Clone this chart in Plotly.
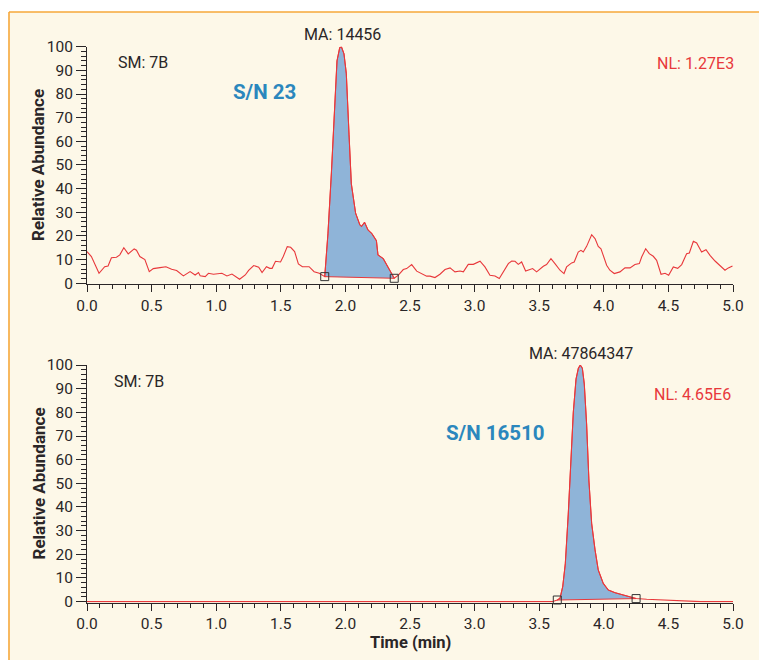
import numpy as np
import plotly.graph_objects as go

# ---------------- data ----------------
top_time = [0.000, 0.034, 0.093, 0.137, 0.163, 0.189, 0.228, 0.254, 0.285, 0.319, 0.365, 0.383,
            0.409, 0.448, 0.482, 0.513, 0.565, 0.611, 0.655, 0.694, 0.746, 0.798, 0.837, 0.863,
            0.876, 0.915, 0.940, 0.979, 1.044, 1.083, 1.122, 1.181, 1.225, 1.251, 1.290, 1.329,
            1.355, 1.389, 1.415, 1.433, 1.459, 1.498, 1.519, 1.550, 1.576, 1.607, 1.636, 1.667,
            1.693, 1.719, 1.758, 1.798, 1.840, 1.865, 1.892, 1.917, 1.935, 1.956, 1.969, 1.989,
            2.007, 2.028, 2.046, 2.079, 2.112, 2.125, 2.148, 2.175, 2.205, 2.240, 2.252, 2.293,
            2.332, 2.371, 2.378, 2.410, 2.448, 2.474, 2.513, 2.552, 2.591, 2.629, 2.655, 2.693,
            2.732, 2.771, 2.810, 2.848, 2.887, 2.913, 2.951, 2.990, 3.042, 3.080, 3.119, 3.158,
            3.191, 3.222, 3.261, 3.287, 3.313, 3.338, 3.364, 3.395, 3.429, 3.449, 3.480, 3.532,
            3.557, 3.591, 3.622, 3.661, 3.692, 3.712, 3.751, 3.771, 3.802, 3.823, 3.841, 3.867,
            3.906, 3.932, 3.957, 3.978, 4.022, 4.047, 4.081, 4.125, 4.164, 4.203, 4.241, 4.275,
            4.293, 4.324, 4.352, 4.383, 4.409, 4.443, 4.474, 4.502, 4.538, 4.572, 4.603, 4.641,
            4.662, 4.693, 4.719, 4.757, 4.791, 4.822, 4.861, 4.899, 4.938, 4.964, 4.996]
top_abund = [13.4, 11.3, 4.2, 7.0, 7.3, 10.8, 11.0, 12.0, 15.0, 12.4, 14.5, 14.0,
             11.3, 10.0, 4.9, 6.2, 6.6, 7.0, 5.9, 5.4, 3.1, 4.9, 3.5, 4.5,
             3.2, 2.8, 4.2, 3.8, 4.2, 3.1, 3.9, 1.7, 3.5, 5.4, 7.5, 6.8,
             4.5, 7.0, 6.3, 6.3, 9.3, 9.0, 11.3, 15.5, 15.2, 13.4, 8.2, 7.0,
             7.0, 7.0, 4.9, 4.2, 2.8, 21.0, 47.0, 77.0, 94.0, 99.6, 100.0, 97.0,
             88.7, 63.0, 42.0, 29.6, 24.7, 24.0, 25.8, 22.5, 21.0, 18.0, 12.0, 10.4,
             6.6, 2.7, 2.1, 3.4, 5.8, 6.2, 7.9, 5.1, 4.1, 3.0, 3.0, 2.4,
             3.8, 5.8, 6.5, 4.8, 5.2, 4.8, 8.0, 8.0, 9.3, 6.9, 3.4, 3.1,
             2.0, 4.8, 8.3, 9.4, 9.3, 8.0, 9.0, 5.2, 5.8, 6.2, 4.8, 7.2,
             7.9, 10.4, 8.3, 5.5, 4.1, 6.9, 8.6, 9.0, 13.2, 13.9, 13.2, 15.6,
             20.5, 18.9, 15.6, 14.6, 7.6, 5.5, 4.1, 4.8, 6.5, 6.5, 7.9, 8.3,
             11.1, 14.6, 12.5, 11.4, 9.7, 3.8, 4.2, 3.4, 6.9, 6.3, 7.9, 12.5,
             12.8, 17.7, 17.0, 13.2, 14.2, 11.8, 9.4, 7.6, 5.5, 6.5, 7.3]
top_peak_times = [1.840, 2.378]
top_peak_base = [2.8, 2.1]

bot_time = [0.000, 1.000, 2.000, 3.000, 3.600, 3.640, 3.661, 3.682, 3.702, 3.725, 3.744, 3.764,
            3.785, 3.803, 3.818, 3.834, 3.849, 3.867, 3.885, 3.906, 3.932, 3.957, 3.996, 4.035,
            4.087, 4.151, 4.216, 4.250, 4.332, 4.461, 4.590, 4.693, 4.750, 5.000]
bot_abund = [0.0, 0.0, 0.0, 0.0, 0.0, 0.7, 1.4, 6.3, 16.0, 37.0, 58.0, 80.0,
             94.0, 98.6, 100.0, 98.6, 92.0, 75.0, 51.0, 33.0, 22.0, 13.4, 7.7, 4.9,
             3.8, 2.8, 2.1, 1.3, 1.0, 0.7, 0.4, 0.3, 0.0, 0.0]
bot_peak_times = [3.640, 4.250]
bot_peak_base = [0.7, 1.3]

x_ticks = [0.0, 0.5, 1.0, 1.5, 2.0, 2.5, 3.0, 3.5, 4.0, 4.5, 5.0]
y_ticks = [0, 10, 20, 30, 40, 50, 60, 70, 80, 90, 100]

# ---------------- styling ----------------
FONT = "Roboto, Liberation Sans, sans-serif"
INK = "#2a2627"
RED = "#e8383b"
FILL = "#8fb4d8"
BLUE = "#2b87bd"
CREAM = "#fdf8e8"
ORANGE = "#f6a83a"
W, H = 759, 660


def px(xp):
    return xp / W


def py(yp):
    return 1 - yp / H


def peak_polygon(t, a, times, base):
    t = np.asarray(t)
    a = np.asarray(a)
    m = (t >= times[0]) & (t <= times[1])
    xs = list(t[m]) + [times[1], times[0]]
    ys = list(a[m]) + [base[1], base[0]]
    return xs, ys


fig = go.Figure()

panels = [
    ("x", "y", top_time, top_abund, top_peak_times, top_peak_base),
    ("x2", "y2", bot_time, bot_abund, bot_peak_times, bot_peak_base),
]
for xa, ya, t, a, pt, pb in panels:
    xs, ys = peak_polygon(t, a, pt, pb)
    fig.add_trace(go.Scatter(x=xs, y=ys, xaxis=xa, yaxis=ya, mode="lines",
                             fill="toself", fillcolor=FILL,
                             line=dict(color=RED, width=1), hoverinfo="skip",
                             showlegend=False))
    fig.add_trace(go.Scatter(x=t, y=a, xaxis=xa, yaxis=ya, mode="lines",
                             line=dict(color=RED, width=1.1), showlegend=False))
    fig.add_trace(go.Scatter(x=pt, y=pb, xaxis=xa, yaxis=ya, mode="markers",
                             marker=dict(symbol="square-open", size=8, color="#333333",
                                         line=dict(width=1)),
                             cliponaxis=False, showlegend=False))

xdom = [px(87), px(733)]
top_dom = [py(284.2), py(46.7)]
bot_dom = [py(602.6), py(365.0)]

tickfont = dict(family=FONT, size=15.5, color=INK)


def xaxis(anchor):
    return dict(domain=xdom, range=[0, 5], anchor=anchor, showline=True, linecolor=INK,
                linewidth=1, ticks="outside", ticklen=7, tickwidth=1, tickcolor=INK,
                tickmode="array", tickvals=x_ticks, ticktext=[f"{v:.1f}" for v in x_ticks],
                minor=dict(dtick=0.1, tick0=0, ticks="outside", ticklen=4, tickcolor=INK,
                           tickwidth=1, showgrid=False),
                showgrid=False, zeroline=False, tickfont=tickfont, layer="below traces",
                automargin=False, fixedrange=True)


def yaxis(anchor, dom):
    return dict(domain=dom, range=[-0.4, 100], anchor=anchor, showline=True, linecolor=INK,
                linewidth=1, ticks="outside", ticklen=10, tickwidth=1, tickcolor=INK,
                tickmode="array", tickvals=y_ticks, ticktext=[str(v) for v in y_ticks],
                minor=dict(dtick=2, tick0=0, ticks="outside", ticklen=5, tickcolor=INK,
                           tickwidth=1, showgrid=False),
                showgrid=False, zeroline=False, tickfont=tickfont, layer="below traces",
                automargin=False, fixedrange=True)


def note(xp, yp, text, xanchor="left", size=16, color=INK, angle=0):
    return dict(x=px(xp), y=py(yp), xref="paper", yref="paper", text=text, showarrow=False,
                xanchor=xanchor, yanchor="middle", textangle=angle,
                font=dict(family=FONT, size=size, color=color))


annotations = [
    note(342, 34, "MA: 14456", "center"),
    note(116, 62.5, "SM: 7B"),
    note(231, 91.7, "<b>S/N 23</b>", size=20.5, color=BLUE),
    note(736, 63, "NL: 1.27E3", "right", color=RED),
    note(581, 353.7, "MA: 47864347", "center"),
    note(112, 381, "SM: 7B"),
    note(444, 432.5, "<b>S/N 16510</b>", size=20.5, color=BLUE),
    note(733, 394, "NL: 4.65E6", "right", color=RED),
    note(38, 165, "<b>Relative Abundance</b>", "center", size=17, angle=-90),
    note(38, 483.5, "<b>Relative Abundance</b>", "center", size=17, angle=-90),
    note(410, 642, "<b>Time (min)</b>", "center", size=16.5),
]

shapes = [
    dict(type="rect", xref="paper", yref="paper", x0=px(9), x1=1, y0=0, y1=py(12),
         fillcolor=CREAM, line=dict(width=0), layer="below"),
    dict(type="line", xref="paper", yref="paper", x0=px(9), x1=1, y0=py(12), y1=py(12),
         line=dict(color=ORANGE, width=1.6), layer="below"),
    dict(type="line", xref="paper", yref="paper", x0=px(9), x1=px(9), y0=0, y1=py(12),
         line=dict(color=ORANGE, width=1.6), layer="below"),
]

fig.update_layout(
    width=W, height=H, margin=dict(l=0, r=0, t=0, b=0, pad=0, autoexpand=False),
    paper_bgcolor="white", plot_bgcolor="rgba(0,0,0,0)",
    xaxis=xaxis("y"), yaxis=yaxis("x", top_dom),
    xaxis2=xaxis("y2"), yaxis2=yaxis("x2", bot_dom),
    annotations=annotations, shapes=shapes, showlegend=False,
    font=dict(family=FONT, color=INK),
)

fig.write_html("out.html", config={"displayModeBar": False},
               post_script="document.body.style.margin='0';document.body.style.overflow='hidden';")
